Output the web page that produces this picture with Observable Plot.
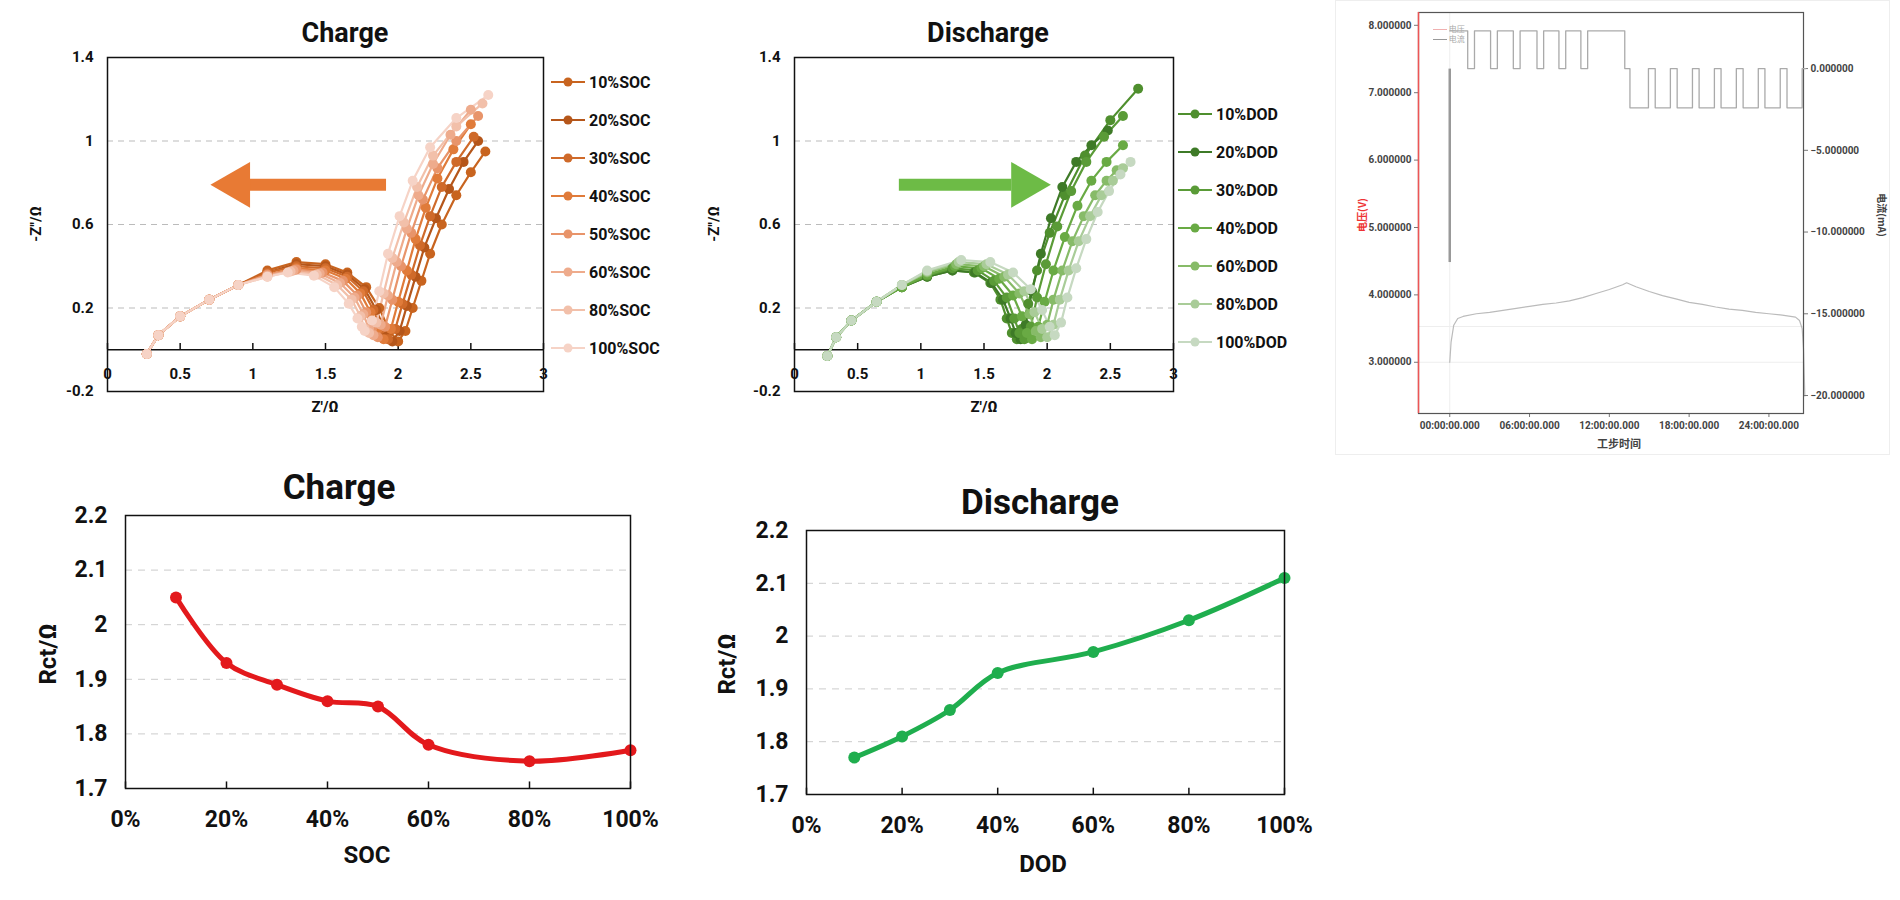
<!DOCTYPE html>
<html><head><meta charset="utf-8">
<script src="https://cdn.jsdelivr.net/npm/d3@7"></script>
<script src="https://cdn.jsdelivr.net/npm/@observablehq/plot@0.6"></script>
<style>
body{margin:0;background:#fff;font-family:Roboto,"Noto Sans",sans-serif;}
#root{position:relative;width:1900px;height:900px;overflow:hidden;}
.t{position:absolute;font-weight:700;color:#111;white-space:nowrap;transform:translate(-50%,-50%);}
.leg{position:absolute;font-weight:700;font-size:16px;color:#111;}
.leg div{height:38px;display:flex;align-items:center;}
</style></head><body><div id="root"></div>
<script>
// ---------- data ----------
const socNames = ["10%SOC","20%SOC","30%SOC","40%SOC","50%SOC","60%SOC","80%SOC","100%SOC"];
const socColors = ["#c8641f","#b5561a","#cf6a2a","#e07b3a","#e8946a","#eeab8c","#f2c0aa","#f6d3c6"];
const C10=[[0.27,-0.02],[0.35,0.07],[0.5,0.16],[0.7,0.24],[0.9,0.31],[1.1,0.38],[1.3,0.42],[1.5,0.41],[1.65,0.37],[1.78,0.3],[1.87,0.2],[1.94,0.09],[2.0,0.04],[2.05,0.09],[2.1,0.2],[2.16,0.33],[2.22,0.46],[2.3,0.6],[2.4,0.74],[2.5,0.85],[2.6,0.95]];
const C20=[[0.27,-0.02],[0.35,0.07],[0.5,0.16],[0.7,0.24],[0.9,0.31],[1.1,0.37],[1.3,0.41],[1.5,0.4],[1.65,0.36],[1.77,0.29],[1.85,0.19],[1.91,0.09],[1.96,0.04],[2.01,0.09],[2.06,0.21],[2.12,0.35],[2.18,0.49],[2.26,0.63],[2.35,0.77],[2.45,0.9],[2.55,1.0]];
const C30=[[0.27,-0.02],[0.35,0.07],[0.5,0.16],[0.7,0.24],[0.9,0.31],[1.1,0.37],[1.3,0.4],[1.5,0.39],[1.65,0.35],[1.76,0.28],[1.83,0.19],[1.88,0.1],[1.93,0.05],[1.98,0.1],[2.03,0.22],[2.09,0.36],[2.15,0.5],[2.22,0.64],[2.3,0.78],[2.4,0.9],[2.52,1.02]];
const C40=[[0.27,-0.02],[0.35,0.07],[0.5,0.16],[0.7,0.24],[0.9,0.31],[1.1,0.36],[1.3,0.39],[1.5,0.38],[1.64,0.34],[1.74,0.27],[1.81,0.18],[1.86,0.1],[1.9,0.05],[1.95,0.1],[2.0,0.23],[2.06,0.38],[2.12,0.53],[2.19,0.68],[2.27,0.82],[2.38,0.96],[2.5,1.08]];
const C50=[[0.27,-0.02],[0.35,0.07],[0.5,0.16],[0.7,0.24],[0.9,0.31],[1.1,0.36],[1.3,0.385],[1.48,0.37],[1.62,0.33],[1.72,0.26],[1.78,0.18],[1.82,0.1],[1.86,0.06],[1.91,0.11],[1.96,0.24],[2.02,0.4],[2.09,0.56],[2.17,0.72],[2.27,0.87],[2.4,1.0],[2.55,1.12]];
const C60=[[0.27,-0.02],[0.35,0.07],[0.5,0.16],[0.7,0.24],[0.9,0.31],[1.1,0.355],[1.28,0.38],[1.46,0.365],[1.6,0.32],[1.7,0.25],[1.76,0.17],[1.8,0.1],[1.83,0.07],[1.88,0.12],[1.93,0.26],[1.99,0.42],[2.06,0.58],[2.14,0.74],[2.24,0.89],[2.36,1.03],[2.5,1.15]];
const C80=[[0.27,-0.02],[0.35,0.07],[0.5,0.16],[0.7,0.24],[0.9,0.31],[1.1,0.35],[1.26,0.375],[1.44,0.36],[1.58,0.31],[1.68,0.24],[1.74,0.16],[1.77,0.1],[1.8,0.08],[1.85,0.13],[1.9,0.27],[1.96,0.44],[2.04,0.61],[2.13,0.78],[2.24,0.93],[2.4,1.07],[2.58,1.18]];
const C100=[[0.27,-0.02],[0.35,0.07],[0.5,0.16],[0.7,0.24],[0.9,0.31],[1.1,0.35],[1.24,0.37],[1.42,0.355],[1.56,0.3],[1.66,0.22],[1.72,0.15],[1.75,0.11],[1.77,0.09],[1.82,0.14],[1.87,0.28],[1.93,0.46],[2.01,0.64],[2.1,0.81],[2.22,0.97],[2.4,1.11],[2.62,1.22]];
const socSeries=[C10,C20,C30,C40,C50,C60,C80,C100];

const dodNames = ["10%DOD","20%DOD","30%DOD","40%DOD","60%DOD","80%DOD","100%DOD"];
const dodColors = ["#4f8f2e","#3e7a27","#5a9b37","#69aa44","#87bb68","#a9cc98","#c6d9c1"];
const D10=[[0.26,-0.03],[0.33,0.06],[0.45,0.14],[0.65,0.23],[0.85,0.3],[1.05,0.35],[1.25,0.38],[1.42,0.37],[1.55,0.32],[1.63,0.24],[1.68,0.15],[1.72,0.08],[1.76,0.05],[1.8,0.1],[1.85,0.22],[1.92,0.38],[2.02,0.56],[2.14,0.74],[2.3,0.93],[2.5,1.1],[2.72,1.25]];
const D20=[[0.26,-0.03],[0.33,0.06],[0.45,0.14],[0.65,0.23],[0.85,0.3],[1.05,0.35],[1.25,0.38],[1.43,0.37],[1.56,0.32],[1.65,0.24],[1.71,0.15],[1.75,0.08],[1.79,0.05],[1.83,0.12],[1.88,0.28],[1.95,0.46],[2.03,0.63],[2.12,0.78],[2.23,0.9],[2.35,0.98],[2.48,1.05]];
const D30=[[0.26,-0.03],[0.33,0.06],[0.45,0.14],[0.65,0.23],[0.85,0.3],[1.05,0.355],[1.25,0.39],[1.45,0.38],[1.58,0.33],[1.68,0.25],[1.74,0.15],[1.78,0.08],[1.82,0.05],[1.87,0.11],[1.92,0.25],[1.99,0.41],[2.08,0.59],[2.19,0.76],[2.31,0.9],[2.45,1.02],[2.6,1.12]];
const D40=[[0.26,-0.03],[0.33,0.06],[0.45,0.14],[0.65,0.23],[0.85,0.3],[1.05,0.36],[1.27,0.4],[1.48,0.39],[1.62,0.34],[1.73,0.26],[1.8,0.16],[1.84,0.08],[1.88,0.05],[1.93,0.11],[1.98,0.23],[2.05,0.38],[2.14,0.54],[2.24,0.69],[2.35,0.81],[2.47,0.9],[2.6,0.98]];
const D60=[[0.26,-0.03],[0.33,0.06],[0.45,0.14],[0.65,0.23],[0.85,0.31],[1.05,0.37],[1.28,0.41],[1.5,0.4],[1.66,0.35],[1.78,0.27],[1.86,0.17],[1.91,0.09],[1.95,0.06],[2.0,0.12],[2.05,0.24],[2.12,0.38],[2.2,0.52],[2.29,0.64],[2.38,0.74],[2.47,0.81],[2.55,0.86]];
const D80=[[0.26,-0.03],[0.33,0.06],[0.45,0.14],[0.65,0.23],[0.85,0.31],[1.05,0.375],[1.3,0.42],[1.52,0.41],[1.69,0.36],[1.82,0.28],[1.9,0.18],[1.96,0.1],[2.0,0.06],[2.05,0.12],[2.1,0.24],[2.17,0.38],[2.25,0.52],[2.34,0.64],[2.43,0.74],[2.52,0.81],[2.6,0.87]];
const D100=[[0.26,-0.03],[0.33,0.06],[0.45,0.14],[0.65,0.23],[0.85,0.31],[1.05,0.38],[1.32,0.43],[1.55,0.42],[1.73,0.37],[1.87,0.29],[1.96,0.19],[2.02,0.11],[2.06,0.07],[2.11,0.13],[2.16,0.25],[2.23,0.39],[2.31,0.53],[2.4,0.66],[2.49,0.76],[2.58,0.84],[2.66,0.9]];
const dodSeries=[D10,D20,D30,D40,D60,D80,D100];

const nyXTicks=[0,0.5,1,1.5,2,2.5,3];
const nyYTicks=[-0.2,0.2,0.6,1,1.4];
const chargeArrow={x1:1.92,x2:0.98,y:0.79,head:0.89};
const dischargeArrow={x1:0.83,x2:1.72,y:0.79,head:1.82};

const socPct=[10,20,30,40,50,60,80,100];
const rctCharge=[2.05,1.93,1.89,1.86,1.85,1.78,1.75,1.77];
const dodPct=[10,20,30,40,60,80,100];
const rctDischarge=[1.77,1.81,1.86,1.93,1.97,2.03,2.11];
const pctTicks=[0,20,40,60,80,100];
const rctTicks=[1.7,1.8,1.9,2.0,2.1,2.2];

const curT=[0,1.35,1.86,3.07,3.58,4.78,5.29,6.56,7.06,8.21,8.72,9.86,10.37,13.16,13.55,14.94,15.45,16.59,17.1,18.25,18.75,19.9,20.4,21.55,22.06,23.2,23.7,24.85,25.36,26.5,26.76];
const curI=[2.3,0,2.3,0,2.3,0,2.3,0,2.3,0,2.3,0,2.3,0,-2.4,0,-2.4,0,-2.4,0,-2.4,0,-2.4,0,-2.4,0,-2.4,0,-2.4,0,0];
const volT=[0,0.1,0.3,0.6,1,2,3,4,5,6,7,8,9,10,11,12,13,13.3,14,15,16,17,18,19,20,21,22,23,24,25,26,26.3,26.5,26.6,26.7];
const volV=[3.0,3.3,3.55,3.65,3.68,3.72,3.74,3.77,3.8,3.83,3.86,3.88,3.91,3.96,4.02,4.08,4.15,4.18,4.12,4.05,3.99,3.94,3.89,3.86,3.82,3.79,3.77,3.74,3.72,3.7,3.67,3.62,3.5,3.2,2.5];
const spikeV=[7.35,4.48];
const timeTicks=[0,6,12,18,24];
const voltTicks=[3,4,5,6,7,8];
const curTicks=[0,-5,-10,-15,-20];

// ---------- helpers ----------
const root=document.getElementById("root");
function place(el,left,top){el.style.position="absolute";el.style.left=left+"px";el.style.top=top+"px";root.appendChild(el);return el;}
function text(s,x,y,size,extra=""){const d=document.createElement("div");d.className="t";d.textContent=s;d.style.left=x+"px";d.style.top=y+"px";d.style.fontSize=size+"px";if(extra)d.style.cssText+=extra;root.appendChild(d);return d;}
const font='Roboto, "Noto Sans", sans-serif';

function nyquist(series,names,colors,arrow,arrowColor,left,top,w,h,ml,mr,mt,mb){
  const rows=[];
  series.forEach((s,i)=>s.forEach(([x,y])=>rows.push({x,y,s:names[i]})));
  const headDir = arrow.head<arrow.x2 ? -90 : 90;
  const svg=Plot.plot({
    width:w,height:h,marginLeft:ml,marginRight:mr,marginTop:mt,marginBottom:mb,
    style:{fontFamily:font,fontSize:"15px",fontWeight:"700",color:"#111",background:"transparent"},
    x:{domain:[0,3],axis:null},
    y:{domain:[-0.2,1.4]},
    color:{domain:names,range:colors},
    marks:[
      Plot.gridY([0.2,0.6,1],{stroke:"#bbb",strokeOpacity:1,strokeDasharray:"6,5"}),
      Plot.axisY(nyYTicks,{tickSize:0,tickPadding:14,tickFormat:d=>String(d),fontWeight:700,fontSize:15,label:null}),
      Plot.ruleY([0],{stroke:"#111",strokeWidth:1.5}),
      Plot.ruleX(nyXTicks,{x:d=>d,y1:0,y2:0.03,stroke:"#111",strokeWidth:1.5}),
      Plot.text(nyXTicks,{x:d=>d,y:0,dy:24,text:d=>String(d),fontSize:15,fontWeight:700}),
      Plot.line(rows,{x:"x",y:"y",z:"s",stroke:"s",strokeWidth:2.2}),
      Plot.dot(rows,{x:"x",y:"y",fill:"s",r:5}),
      Plot.ruleY([arrow],{x1:"x1",x2:"x2",y:"y",stroke:arrowColor,strokeWidth:12}),
      Plot.dot([arrow],{x:"head",y:"y",symbol:"triangle",r:17,rotate:headDir,fill:arrowColor}),
      Plot.frame({stroke:"#111",strokeWidth:1.5})
    ]
  });
  place(svg,left,top);
}

nyquist(socSeries,socNames,socColors,chargeArrow,"#e87a34",0,0,560,430,107,17,57,39);
text("Charge",345,33,27);
text("Z'/Ω",325,407,15);
text('-Z"/Ω',36,224,15,"transform:translate(-50%,-50%) rotate(-90deg);");
nyquist(dodSeries,dodNames,dodColors,dischargeArrow,"#6dbb46",700,0,490,430,94,17,57,39);
text("Discharge",988,33,27);
text("Z'/Ω",984,407,15);
text('-Z"/Ω',714,224,15,"transform:translate(-50%,-50%) rotate(-90deg);");

function legend(names,colors,left,top){
  const box=document.createElement("div");box.className="leg";
  names.forEach((n,i)=>{const r=document.createElement("div");
    r.innerHTML=`<svg width="34" height="12" style="margin-right:4px"><line x1="0" y1="6" x2="34" y2="6" stroke="${colors[i]}" stroke-width="2"/><circle cx="17" cy="6" r="4.5" fill="${colors[i]}"/></svg>${n}`;
    box.appendChild(r);});
  place(box,left,top);
}
legend(socNames,socColors,551,63);
legend(dodNames,dodColors,1178,95);

function rct(xs,ys,color,left,top,w,h,ml,mr,mt,mb){
  const rows=xs.map((x,i)=>({x,y:ys[i]}));
  const svg=Plot.plot({
    width:w,height:h,marginLeft:ml,marginRight:mr,marginTop:mt,marginBottom:mb,
    style:{fontFamily:font,fontWeight:"700",color:"#111",background:"transparent"},
    x:{domain:[0,100]},y:{domain:[1.7,2.2]},
    marks:[
      Plot.gridY([1.8,1.9,2.0,2.1],{stroke:"#ccc",strokeOpacity:1,strokeDasharray:"7,6"}),
      Plot.axisY(rctTicks,{tickSize:0,tickPadding:18,fontSize:23,fontWeight:700,tickFormat:d=>d===2?"2":d.toFixed(1),label:null}),
      Plot.axisX(pctTicks,{tickSize:0,tickPadding:22,fontSize:23,fontWeight:700,tickFormat:d=>d+"%",label:null}),
      Plot.ruleX(pctTicks,{x:d=>d,y1:1.7,y2:1.712,stroke:"#111",strokeWidth:1.5}),
      Plot.line(rows,{x:"x",y:"y",stroke:color,strokeWidth:5,curve:"catmull-rom"}),
      Plot.dot(rows,{x:"x",y:"y",fill:color,r:6}),
      Plot.frame({stroke:"#111",strokeWidth:1.5})
    ]
  });
  place(svg,left,top);
}
rct(socPct,rctCharge,"#e3191c",0,460,700,420,125,70,55,92);
text("Charge",339,487,35);
text("SOC",367,855,24);
text("Rct/Ω",48,654,24,"transform:translate(-50%,-50%) rotate(-90deg);");
rct(dodPct,rctDischarge,"#1fae4e",700,470,640,420,106,56,60,96);
text("Discharge",1040,502,35);
text("DOD",1043,864,24);
text("Rct/Ω",727,664,24,"transform:translate(-50%,-50%) rotate(-90deg);");

// Voltage/current screenshot panel
const bg=document.createElement("div");bg.style.cssText="width:555px;height:455px;border:1px solid #eee;background:#fff;box-sizing:border-box;";
place(bg,1335,0);
const vrows=volT.map((t,i)=>({t,v:volV[i]}));
const crows=curT.map((t,i)=>({t,c:curI[i]}));
const tfmt=d=>String(d).padStart(2,"0")+":00:00.000";
const vsvg=Plot.plot({
  width:540,height:455,marginLeft:78,marginRight:77,marginTop:12,marginBottom:42,
  style:{fontFamily:font,fontSize:"10px",fontWeight:"700",color:"#444",background:"transparent"},
  x:{domain:[-2.35,26.6]},y:{domain:[2.24,8.19]},
  marks:[
    Plot.ruleY([3,3.53],{stroke:"#eee"}),
    Plot.ruleX([0],{stroke:"#eee"}),
    Plot.axisY(voltTicks,{tickSize:4,tickPadding:3,fontSize:10,tickFormat:d3.format(".6f"),label:null,stroke:"#777"}),
    Plot.axisX(timeTicks,{tickSize:4,tickPadding:4,fontSize:10,tickFormat:tfmt,label:null,stroke:"#777"}),
    Plot.line(vrows,{x:"t",y:"v",stroke:"#bbb",strokeWidth:1.2}),
    Plot.ruleX([0],{y1:spikeV[0],y2:spikeV[1],stroke:"#999",strokeWidth:2.5}),
    Plot.frame({stroke:"#555",strokeWidth:1.2}),
    Plot.ruleX([-2.35],{stroke:"#e55",strokeWidth:1.5})
  ]
});
place(vsvg,1340,0);
const csvg=Plot.plot({
  width:540,height:455,marginLeft:78,marginRight:77,marginTop:12,marginBottom:42,
  style:{fontFamily:font,fontSize:"10px",fontWeight:"700",color:"#444",background:"transparent"},
  x:{domain:[-2.35,26.6],axis:null},y:{domain:[-21.1,3.43]},
  marks:[
    Plot.axisY(curTicks,{anchor:"right",tickSize:4,tickPadding:3,fontSize:10,tickFormat:d3.format(".6f"),label:null,stroke:"#777"}),
    Plot.line(crows,{x:"t",y:"c",stroke:"#aaa",strokeWidth:1.3,curve:"step-after"})
  ]
});
place(csvg,1340,0);
text("工步时间",1619,443,11,"color:#444;font-family:'Noto Sans CJK SC';");
text("电压(V)",1361,215,10,"color:#e33;font-family:'Noto Sans CJK SC';transform:translate(-50%,-50%) rotate(-90deg);");
text("电流(mA)",1882,215,10,"color:#444;font-family:'Noto Sans CJK SC';transform:translate(-50%,-50%) rotate(90deg);");
const lg=document.createElement("div");lg.style.cssText="font-size:8px;color:#aaa;line-height:10px;font-family:'Noto Sans CJK SC';";
lg.innerHTML='<span style="display:inline-block;width:14px;border-top:1px solid #f0b0b0;vertical-align:middle"></span> 电压<br><span style="display:inline-block;width:14px;border-top:1px solid #999;vertical-align:middle"></span> 电流';
place(lg,1433,24);
</script></body></html>
